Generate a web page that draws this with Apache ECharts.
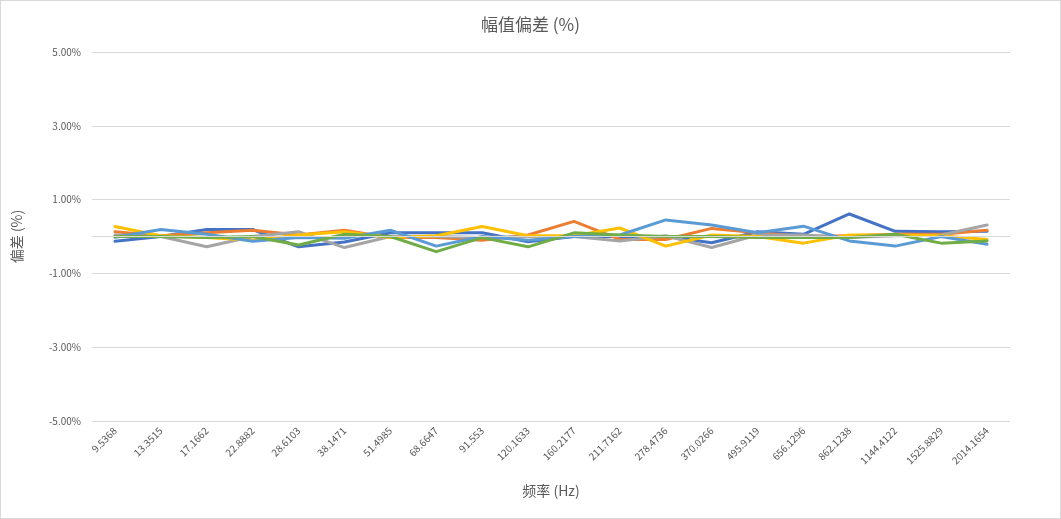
<!DOCTYPE html>
<html>
<head>
<meta charset="utf-8">
<script src="https://cdn.jsdelivr.net/npm/echarts@6/dist/echarts.min.js"></script>
<style>
  html, body { margin: 0; padding: 0; background: #fff; }
  #chart { width: 1059px; height: 517px; border: 1px solid #d9d9d9; }
</style>
</head>
<body>
<div id="chart"></div>
<script>
// 频率 (Hz)
const freqs = ['9.5368', '13.3515', '17.1662', '22.8882', '28.6103', '38.1471', '51.4985', '68.6647', '91.553', '120.1633',
  '160.2177', '211.7162', '278.4736', '370.0266', '495.9119', '656.1296', '862.1238', '1144.4122', '1525.8829', '2014.1654']

// 幅值偏差 (%) 各组
const s1 = [-0.13, 0, 0.19, 0.19, -0.28, -0.15, 0.1, 0.1, 0.1, -0.14, 0, 0, 0, -0.17, 0.13, 0.06, 0.61, 0.14, 0.13, 0.14]
const s2 = [0.13, 0.02, 0.1, 0.17, 0.04, 0.17, -0.03, -0.03, -0.1, 0.04, 0.41, -0.08, -0.08, 0.22, 0.1, 0, 0.02, 0.06, 0.06, 0.17]
const s3 = [0.04, 0, -0.28, 0, 0.13, -0.3, 0, 0, -0.03, 0, 0, -0.12, 0.02, -0.3, 0.04, 0.04, -0.03, 0.02, 0.04, 0.31]
const s4 = [0.27, 0.02, -0.03, -0.1, 0.04, 0.13, -0.03, 0.02, 0.27, 0.02, 0.02, 0.23, -0.26, 0.04, 0, -0.18, 0.04, 0.04, 0.02, -0.08]
const s5 = [-0.02, 0.19, 0.06, -0.13, -0.03, -0.05, 0.17, -0.26, 0, -0.1, 0, 0.04, 0.45, 0.31, 0.1, 0.28, -0.12, -0.26, 0, -0.21]
const s6 = [0, 0, -0.03, 0, -0.23, 0.06, 0, -0.41, -0.03, -0.28, 0.1, 0.04, 0, 0, -0.03, -0.03, -0.03, 0.06, -0.18, -0.12]

const names = ['系列1', '系列2', '系列3', '系列4', '系列5', '系列6']
const colors = ['#4472C4', '#ED7D31', '#A5A5A5', '#FFC000', '#5B9BD5', '#70AD47']
const font = '"Noto Sans CJK SC", "Noto Sans", sans-serif'

const chart = echarts.init(document.getElementById('chart'))

const series = [s1, s2, s3, s4, s5, s6].map((d, i) => {
  const s = {
    name: names[i],
    type: 'line',
    data: d,
    symbol: 'none',
    lineStyle: { width: 3, color: colors[i], join: 'round', cap: 'round' },
    itemStyle: { color: colors[i] }
  }
  if (i === 0) {
    // 0 线
    s.markLine = {
      silent: true,
      symbol: 'none',
      label: { show: false },
      lineStyle: { color: '#d9d9d9', width: 1, type: 'solid' },
      data: [{ yAxis: 0 }]
    }
  }
  return s
})

const option = {
  animation: false,
  color: colors,
  textStyle: { fontFamily: font },
  title: {
    text: '幅值偏差 (%)',
    left: 'center',
    top: 10,
    textStyle: { color: '#595959', fontSize: 17, fontWeight: 'normal', fontFamily: font }
  },
  grid: { left: 91, right: 50, top: 51, bottom: 97 },
  xAxis: {
    type: 'category',
    data: freqs,
    boundaryGap: true,
    name: '频率 (Hz)',
    nameLocation: 'middle',
    nameGap: 63,
    nameTextStyle: { color: '#595959', fontSize: 14, fontFamily: font },
    axisLine: { show: false, onZero: false },
    axisTick: { show: false },
    axisLabel: { rotate: 45, color: '#595959', fontSize: 10, margin: 8, interval: 0, fontFamily: font }
  },
  yAxis: {
    type: 'value',
    min: -5,
    max: 5,
    interval: 2,
    name: '偏差 (%)',
    nameLocation: 'middle',
    nameGap: 68,
    nameTextStyle: { color: '#595959', fontSize: 14, fontFamily: font },
    axisLine: { show: false },
    axisTick: { show: false },
    axisLabel: {
      color: '#595959',
      fontSize: 10,
      margin: 11,
      fontFamily: font,
      formatter: v => v.toFixed(2) + '%'
    },
    splitLine: { lineStyle: { color: '#d9d9d9', width: 1 } }
  },
  series: series
}

chart.setOption(option)
window.addEventListener('resize', () => {
  chart.resize()
})
</script>
</body>
</html>
